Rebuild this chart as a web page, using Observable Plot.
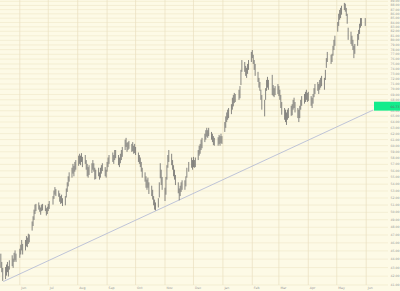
<!DOCTYPE html>
<html><head><meta charset="utf-8">
<script src="https://cdn.jsdelivr.net/npm/d3@7"></script>
<script src="https://cdn.jsdelivr.net/npm/@observablehq/plot@0.6"></script>
<style>html,body{margin:0;padding:0;background:#fdfae6;overflow:hidden}</style>
</head><body><div id="chart"></div>
<script>
// ---- data ----
const firstDay = "2010-05-12";
const holidays = ["2010-05-31","2010-07-05","2010-09-06","2010-11-25","2010-12-24",
  "2011-01-17","2011-02-21","2011-04-22","2011-05-30"];
const highs = [
  44.6,43.6,42.9,
  43.0,43.3,43.6,43.1,43.8,
  44.4,44.0,44.7,45.0,44.6,
  45.2,45.7,46.3,45.8,
  46.3,46.8,46.6,47.1,47.0,
  48.7,49.4,50.3,51.0,51.1,
  51.3,50.9,50.6,51.0,51.1,
  50.9,50.5,50.7,51.1,51.5,
  52.2,53.0,53.5,53.2,
  53.0,52.6,52.2,52.4,51.9,
  52.2,53.3,54.2,55.1,55.7,
  56.4,57.0,56.7,57.3,57.6,
  58.3,58.6,58.3,58.7,58.1,
  58.4,57.6,57.0,56.5,56.8,
  57.1,57.6,57.1,56.4,56.1,
  56.4,55.7,56.4,56.8,57.1,
  56.5,56.1,57.3,58.0,58.4,
  58.8,58.4,59.2,59.2,
  58.4,58.0,58.6,59.2,59.7,
  60.9,61.2,60.4,60.5,60.7,
  60.2,60.5,59.9,60.2,59.7,
  58.8,58.4,58.0,57.3,56.4,
  55.7,55.1,54.6,54.9,54.2,
  53.7,53.1,52.2,51.7,51.3,
  51.9,54.2,57.1,56.1,55.0,
  53.4,55.0,56.8,58.4,59.2,
  58.6,57.6,56.8,56.1,55.3,
  54.2,53.3,53.7,54.2,54.5,
  54.5,55.1,56.4,57.3,
  58.0,57.6,58.1,57.6,58.0,
  59.2,59.9,60.2,60.9,61.2,
  61.9,62.5,62.9,62.5,62.9,
  62.2,61.9,61.5,61.2,
  61.3,61.7,61.5,61.9,61.5,
  63.9,64.9,65.6,66.1,66.4,
  67.1,68.3,68.8,69.2,69.0,
  69.8,70.5,73.7,75.7,
  75.3,74.5,74.1,74.9,75.7,
  77.4,77.8,76.8,75.7,74.9,
  73.3,72.1,71.3,69.8,68.8,
  67.9,70.1,71.7,72.3,71.7,
  72.7,70.7,70.1,70.5,
  70.9,70.5,69.8,68.8,67.5,
  66.4,66.1,65.6,66.1,66.4,
  66.8,67.1,67.9,68.3,67.5,
  66.4,66.1,66.8,67.9,68.6,
  69.0,69.4,69.8,69.2,69.4,
  68.6,68.3,69.0,70.1,70.9,
  71.3,70.9,71.7,72.1,72.5,
  72.1,73.7,76.1,77.4,
  76.8,77.0,78.7,80.0,80.9,
  84.0,85.9,86.8,87.3,87.8,
  88.5,88.3,87.3,85.9,82.7,
  81.8,80.9,80.0,78.7,79.1,
  81.3,82.2,83.6,84.9,84.9,
  84.9
];
const lows = [
  42.9,42.4,41.4,
  41.6,42.0,42.4,41.9,42.7,
  43.1,42.9,43.6,43.8,43.6,
  44.1,44.5,45.0,44.5,
  45.0,45.5,45.4,45.8,46.0,
  47.5,48.1,48.9,49.7,50.1,
  50.3,50.0,49.6,50.1,50.2,
  50.1,49.5,49.7,50.1,50.4,
  51.0,51.8,52.4,52.2,
  52.1,51.4,51.1,51.2,50.8,
  50.9,52.0,52.8,53.6,54.3,
  54.9,55.5,55.1,55.8,56.1,
  56.7,57.0,56.8,57.3,56.5,
  57.0,56.1,55.1,54.9,55.3,
  55.6,56.1,55.8,54.6,54.7,
  55.1,54.6,54.9,55.5,55.9,
  55.1,54.9,55.8,56.5,57.0,
  57.3,57.0,57.6,57.9,
  56.8,56.5,57.1,57.6,58.1,
  59.2,59.7,58.9,59.2,59.4,
  58.9,59.0,58.6,58.7,58.4,
  57.3,57.0,56.5,55.8,54.9,
  54.3,53.4,53.1,53.4,52.5,
  52.2,51.7,50.9,50.3,50.2,
  50.6,52.0,54.8,53.8,53.1,
  51.5,52.4,54.6,56.4,57.3,
  56.8,56.1,55.1,54.6,53.8,
  52.6,51.6,52.2,52.8,53.1,
  53.1,53.6,54.9,55.8,
  56.4,56.1,56.5,56.4,56.5,
  57.6,58.3,58.6,59.2,59.5,
  60.5,60.9,61.4,61.2,61.5,
  60.9,60.5,60.0,59.9,
  59.9,60.2,59.9,60.3,60.2,
  62.2,62.9,63.9,64.3,64.6,
  65.3,66.1,66.7,67.3,67.5,
  67.9,68.2,70.7,73.3,
  73.3,72.5,72.1,72.9,73.7,
  75.3,76.1,74.9,73.7,72.5,
  71.3,70.2,69.6,67.9,66.1,
  64.9,67.9,69.6,70.2,69.8,
  68.8,68.6,68.4,68.8,
  69.0,68.6,67.9,66.4,65.2,
  64.3,63.9,63.4,64.3,64.6,
  65.0,65.1,66.1,66.4,65.6,
  64.6,63.9,64.6,66.1,66.8,
  67.2,67.5,67.9,67.5,67.7,
  66.8,66.4,67.2,68.4,69.0,
  69.6,69.0,69.8,70.2,70.5,
  69.8,71.7,74.1,75.3,
  74.9,75.3,76.6,77.8,78.7,
  81.8,83.1,84.5,84.9,85.7,
  86.8,86.4,85.4,83.6,80.0,
  79.1,78.7,77.8,76.1,77.0,
  78.7,80.0,81.3,82.7,83.1,
  83.1
];
const monthTicks = ["2010-06-01","2010-07-01","2010-08-01","2010-09-01","2010-10-01","2010-11-01",
  "2010-12-01","2011-01-01","2011-02-01","2011-03-01","2011-04-01","2011-05-01","2011-06-01"];
const priceTicks = d3.range(41, 90);
const trendDates = ["2010-05-15", "2011-06-08"];
const trendPrices = [41.4, 66.1];
const trendLabel = 66.73;

// ---- build ----
const hol = new Set(holidays);
const days = [];
let cur = new Date(firstDay + "T00:00:00Z");
while (days.length < highs.length) {
  const wd = cur.getUTCDay();
  const iso = cur.toISOString().slice(0, 10);
  if (wd !== 0 && wd !== 6 && !hol.has(iso)) days.push(new Date(cur));
  cur = new Date(cur.getTime() + 86400000);
}
const bars = days.map((date, i) => ({date, high: highs[i], low: lows[i]}));
const months = monthTicks.map(s => new Date(s + "T00:00:00Z"));
const trend = trendDates.map((s, i) => ({date: new Date(s + "T00:00:00Z"), price: trendPrices[i]}));

const xDomain = [new Date(Date.UTC(2010, 4, 11, 16)), new Date(Date.UTC(2011, 5, 24, 12))];
const labelX = new Date(Date.UTC(2011, 5, 26, 13));
const boxX1 = new Date(Date.UTC(2011, 5, 9, 18));
const boxX2 = new Date(Date.UTC(2011, 6, 7, 4));

const chart = Plot.plot({
  width: 400, height: 291,
  marginLeft: 0, marginRight: 12, marginTop: 0, marginBottom: 6,
  style: {background: "#fdfae6", fontFamily: "DejaVu Sans", fontSize: "3.2px", color: "#999"},
  x: {type: "utc", domain: xDomain},
  y: {type: "log", domain: [40.94, 89.2]},
  marks: [
    Plot.gridY(priceTicks, {stroke: "#f1e9cc", strokeOpacity: 1, strokeWidth: 0.7}),
    Plot.gridX(months, {stroke: "#e9e0c0", strokeOpacity: 1, strokeWidth: 0.7}),
    Plot.axisY(priceTicks, {anchor: "right", tickSize: 0, tickPadding: 2, tickFormat: d3.format(".2f"),
      label: null, textAnchor: "start", fill: "#999"}),
    Plot.axisX(months, {anchor: "bottom", tickSize: 0, tickPadding: 1, tickFormat: d3.utcFormat("%b"),
      textAnchor: "start", dx: 1.5, label: null, fill: "#999"}),
    Plot.line(trend, {x: "date", y: "price", stroke: "#aeb6d4", strokeWidth: 0.8}),
    Plot.ruleX(bars, {x: "date", y1: "low", y2: "high", stroke: "#6a6a6a", strokeWidth: 0.8}),
    Plot.rect([trendLabel], {x1: boxX1, x2: boxX2, y1: v => v * 0.988, y2: v => v * 1.0124, fill: "#12ec8c"}),
    Plot.text([trendLabel], {x: labelX, y: v => v, text: d3.format(".2f"), textAnchor: "start",
      fill: "#666", fontSize: 3.2})
  ]
});
document.getElementById("chart").appendChild(chart);
</script>
</body></html>
